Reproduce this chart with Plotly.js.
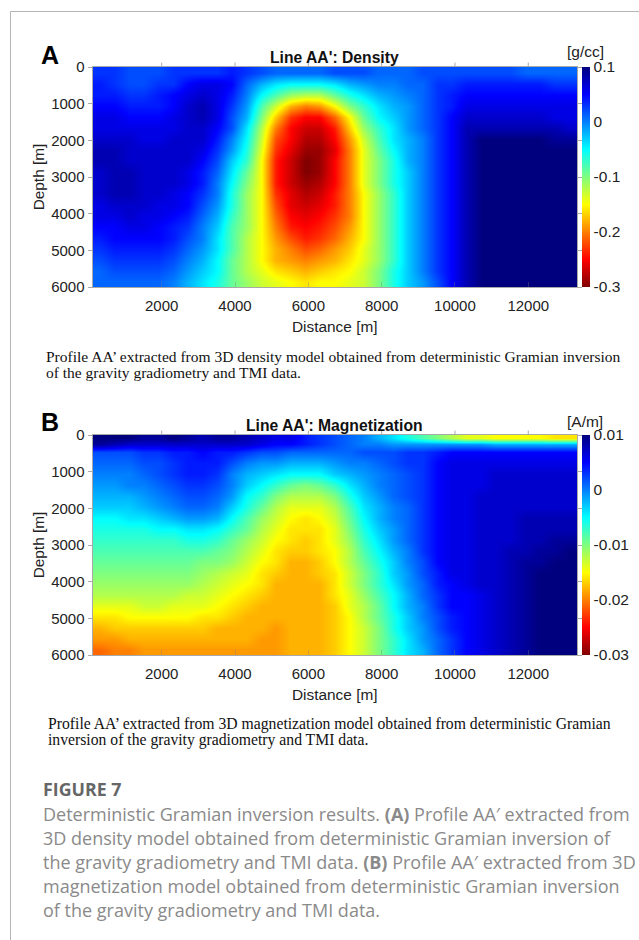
<!DOCTYPE html>
<html><head><meta charset="utf-8">
<script src="https://cdn.plot.ly/plotly-3.0.1.min.js"></script>
<style>html,body{margin:0;padding:0;background:#fff}#g{width:639px;height:940px}</style>
</head><body><div id="g"></div>
<script>
const distance=[312,712,1112,1512,1912,2312,2712,3112,3512,3912,4312,4712,5112,5512,5912,6312,6712,7112,7512,7912,8312,8712,9112,9512,9912,10312,10712,11112,11512,11912,12312,12712,13125];
const depthA=[150,450,750,1050,1350,1650,1950,2250,2550,2850,3150,3450,3750,4050,4350,4650,4950,5250,5550,5850];
const depthB=[75,250,450,750,1050,1350,1650,1950,2250,2550,2850,3150,3450,3750,4050,4350,4650,4950,5250,5550,5850];
// density in 0.01 g/cc
const densityCenti=[
[3,3,2,2,2,3,3,3,3,4,3,2,1,1,1,1,2,2,2,1,1,1,2,2,2,2,2,2,2,1,1,1,1],
[4,3,2,2,3,3,5,6,6,5,1,-2,-4,-5,-5,-5,-4,-2,-1,0,0,1,1,3,3,4,4,4,4,4,4,3,3],
[4,4,3,3,4,5,6,7,6,4,0,-5,-8,-11,-12,-12,-9,-6,-4,-2,-1,0,1,3,4,5,5,5,5,5,5,5,5],
[5,5,4,4,4,5,7,8,6,3,-1,-8,-13,-18,-20,-19,-15,-10,-7,-4,-2,-1,1,3,4,6,6,6,6,6,6,6,6],
[6,6,5,5,5,6,7,8,6,2,-2,-10,-17,-23,-25,-25,-21,-15,-9,-5,-3,-1,1,3,5,7,7,7,7,7,7,6,6],
[6,6,6,6,6,6,7,7,5,2,-4,-12,-20,-25,-27,-27,-24,-17,-11,-7,-4,-1,1,3,5,8,8,8,8,8,8,8,7],
[7,7,7,6,6,7,7,7,4,0,-5,-13,-22,-25,-28,-28,-25,-19,-13,-8,-4,-2,0,3,5,8,10,10,10,10,10,9,9],
[8,8,7,7,7,7,7,6,3,-1,-6,-14,-23,-26,-29,-29,-26,-20,-14,-9,-5,-2,0,3,5,8,10,10,10,10,10,10,10],
[8,8,7,7,7,7,7,5,2,-3,-7,-15,-24,-27,-30,-29,-25,-20,-14,-10,-6,-2,0,3,5,8,10,10,10,10,10,10,10],
[7,8,8,7,7,7,6,4,1,-4,-9,-15,-24,-27,-30,-29,-25,-20,-14,-10,-6,-3,0,3,5,8,10,10,10,10,10,10,10],
[7,8,8,7,7,7,6,4,0,-5,-10,-15,-24,-27,-29,-28,-25,-20,-14,-10,-6,-3,0,3,5,8,10,10,10,10,10,10,10],
[7,8,8,7,7,6,5,3,0,-6,-11,-15,-23,-26,-28,-27,-24,-20,-15,-11,-7,-3,0,3,5,8,10,10,10,10,10,10,10],
[6,7,7,7,6,6,5,2,-1,-6,-11,-15,-22,-26,-27,-26,-24,-20,-15,-11,-7,-3,0,3,5,8,10,10,10,10,10,10,10],
[6,6,7,6,6,5,4,1,-2,-7,-11,-15,-21,-25,-26,-25,-23,-20,-15,-11,-7,-3,0,3,5,8,10,10,10,10,10,10,10],
[5,5,6,6,5,4,3,0,-3,-8,-11,-15,-20,-24,-25,-24,-22,-19,-15,-11,-7,-3,0,3,5,8,10,10,10,10,10,10,10],
[4,5,5,5,5,4,2,0,-4,-8,-12,-15,-19,-22,-24,-23,-21,-18,-15,-11,-7,-3,0,3,5,8,10,10,10,10,10,10,10],
[3,4,4,4,4,3,1,-1,-4,-8,-12,-15,-18,-20,-22,-21,-19,-17,-14,-11,-7,-3,0,3,5,8,10,10,10,10,10,10,10],
[2,3,3,3,3,2,0,-2,-5,-9,-12,-15,-18,-19,-20,-19,-18,-16,-14,-11,-7,-3,0,3,5,8,10,10,10,10,10,10,10],
[1,2,2,2,2,1,-1,-3,-5,-9,-12,-14,-16,-17,-18,-17,-16,-15,-13,-10,-6,-3,0,3,5,8,10,10,10,10,10,10,10],
[1,1,1,1,1,0,-2,-4,-6,-9,-11,-13,-14,-15,-16,-15,-15,-14,-13,-10,-6,-3,-1,2,5,8,10,10,10,10,10,10,10]];
// magnetization in 0.001 A/m
const magnetizationMilli=[
[10,10,10,9,9,10,9,8,9,9,8,7,6,6,4,3,2,1,0,-2,-4,-6,-8,-10,-12,-14,-14,-15,-15,-15,-15,-16,-16],
[9,8,7,7,7,7,7,7,7,7,7,6,5,5,4,3,2,1,0,0,-1,-1,-1,-1,-1,-1,-1,-2,-2,-2,-2,-2,-2],
[2,2,2,3,3,4,4,5,4,4,3,2,2,1,1,1,1,1,2,2,2,3,3,4,5,5,5,5,5,5,5,5,5],
[1,1,1,2,2,3,4,4,4,2,0,-1,-1,-2,-2,-2,-1,0,0,1,2,3,3,5,6,6,6,6,6,6,6,6,6],
[0,0,0,1,2,3,4,4,3,0,-2,-3,-4,-5,-5,-5,-3,-2,-1,0,1,2,3,5,6,6,6,7,7,7,7,7,7],
[-1,-1,0,0,1,2,3,3,2,0,-3,-5,-7,-9,-10,-9,-7,-4,-2,0,1,2,3,5,6,6,6,7,7,7,7,7,7],
[-2,-2,-2,-1,0,1,2,2,1,-1,-5,-7,-10,-12,-12,-12,-10,-6,-3,-1,1,2,3,5,6,6,7,7,7,7,7,7,7],
[-3,-3,-3,-2,-1,0,1,1,0,-3,-6,-9,-12,-14,-14,-14,-12,-8,-4,-2,0,1,3,5,6,6,7,7,7,7,7,7,7],
[-5,-5,-4,-4,-3,-2,-1,-1,-2,-5,-8,-11,-13,-15,-16,-15,-13,-9,-5,-2,0,1,3,5,6,6,7,7,7,8,8,8,8],
[-6,-6,-6,-6,-5,-5,-4,-4,-5,-7,-9,-12,-14,-16,-16,-16,-14,-10,-6,-3,-1,1,3,5,6,6,7,7,7,8,8,8,8],
[-7,-7,-7,-7,-7,-7,-6,-6,-7,-9,-11,-13,-15,-16,-17,-16,-14,-11,-7,-4,-1,1,3,5,6,6,7,7,7,8,8,9,9],
[-8,-8,-8,-8,-8,-8,-8,-8,-9,-10,-12,-14,-16,-17,-17,-16,-15,-12,-8,-5,-2,0,3,5,6,6,7,7,8,8,9,9,10],
[-9,-9,-9,-9,-9,-9,-9,-10,-10,-11,-13,-15,-16,-18,-18,-17,-15,-12,-9,-6,-3,0,2,5,6,6,7,7,8,9,9,10,10],
[-10,-10,-10,-10,-10,-10,-10,-11,-12,-13,-14,-16,-17,-18,-18,-17,-16,-13,-10,-7,-3,-1,2,4,6,6,7,7,8,9,10,10,10],
[-11,-11,-11,-11,-11,-11,-11,-12,-13,-14,-15,-16,-18,-18,-18,-18,-16,-13,-10,-7,-4,-1,1,4,5,6,7,7,8,9,10,10,10],
[-12,-12,-12,-12,-12,-12,-13,-13,-14,-15,-16,-17,-18,-18,-18,-18,-16,-14,-11,-8,-5,-2,1,3,5,5,6,7,8,9,10,10,10],
[-14,-14,-14,-13,-13,-14,-14,-14,-15,-16,-17,-18,-18,-18,-18,-18,-17,-14,-12,-9,-5,-2,0,3,5,5,6,7,8,9,10,10,10],
[-16,-16,-15,-15,-15,-15,-15,-16,-16,-17,-18,-18,-18,-18,-18,-18,-17,-15,-12,-9,-6,-3,0,2,4,5,6,7,8,9,10,10,10],
[-18,-17,-17,-17,-17,-17,-17,-17,-18,-18,-18,-18,-19,-18,-18,-18,-17,-15,-13,-10,-6,-3,-1,2,4,5,6,7,8,9,10,10,10],
[-19,-19,-18,-18,-18,-18,-18,-18,-18,-18,-18,-19,-19,-18,-18,-18,-17,-15,-13,-10,-7,-4,-1,1,3,5,6,7,8,9,10,10,10],
[-21,-20,-20,-19,-19,-19,-19,-19,-19,-19,-19,-19,-19,-18,-18,-18,-17,-15,-13,-10,-7,-4,-2,1,3,5,6,7,8,9,10,10,10]];
const xTicks=[2000,4000,6000,8000,10000,12000];
const yTicks=[0,1000,2000,3000,4000,5000,6000];
const densityTicks=[0.1,0,-0.1,-0.2,-0.3];
const magnetTicks=[0.01,0,-0.01,-0.02,-0.03];
const magnetTickText=['0.01','0','-0.01','-0.02','-0.03'];
const densityTickText=['0.1','0','-0.1','-0.2','-0.3'];

const W=639,H=940;
const SANS='"Liberation Sans",Arial,sans-serif';
const SERIF='"Liberation Serif",serif';
const CAP='"Open Sans",Lato,sans-serif';
const jetReversed=[[0,'#7f0000'],[0.125,'#ff0000'],[0.375,'#ffff00'],[0.5,'#7fff7f'],[0.625,'#00ffff'],[0.875,'#0000ff'],[1,'#00007f']];
const px=v=>v/W, py=v=>1-v/H;
const plotL=92.5,plotR=577;
const panelA={top:67,bot:287}, panelB={top:435,bot:655};

function heat(z,y,xa,ya,panel,zmin,zmax,tv,tt){
  return {type:'heatmap',x:distance,y:y,z:z,xaxis:xa,yaxis:ya,zmin:zmin,zmax:zmax,zsmooth:'best',
    colorscale:jetReversed,hoverinfo:'skip',
    colorbar:{x:px(581.5),xanchor:'left',xpad:0,ypad:0,thickness:8,thicknessmode:'pixels',
      y:py(panel.top),yanchor:'top',len:(panel.bot-panel.top)/H,lenmode:'fraction',
      outlinewidth:0,ticks:'',ticklen:0,tickmode:'array',tickvals:tv,ticktext:tt,
      tickfont:{family:SANS,size:15.5,color:'#222'},borderwidth:0}};
}
const data=[
 heat(densityCenti.map(r=>r.map(v=>v/100)),depthA,'x','y',panelA,-0.3,0.1,densityTicks,densityTickText),
 heat(magnetizationMilli.map(r=>r.map(v=>v/1000)),depthB,'x2','y2',panelB,-0.03,0.01,magnetTicks,magnetTickText)
];
const xax=panel=>({domain:[px(plotL),px(plotR)],range:[112,13330],tickmode:'array',tickvals:xTicks,ticktext:xTicks.map(String),
  ticks:'inside',ticklen:5,tickcolor:'rgba(120,120,120,0.35)',ticklabelstandoff:5,showgrid:false,zeroline:false,showline:true,linecolor:'#a8a8a8',linewidth:1,mirror:true,
  tickfont:{family:SANS,size:15,color:'#222'},title:{text:'Distance [m]',font:{family:SANS,size:15.4,color:'#222'},standoff:8}});
const yax=panel=>({domain:[py(panel.bot),py(panel.top)],range:[6000,0],tickmode:'array',tickvals:yTicks,ticktext:yTicks.map(String),
  ticks:'outside',ticklen:4,tickcolor:'#a8a8a8',showgrid:false,zeroline:false,showline:true,linecolor:'#a8a8a8',linewidth:1,mirror:'ticks',
  tickfont:{family:SANS,size:15,color:'#222'},title:{text:'Depth [m]',font:{family:SANS,size:15.4,color:'#222'},standoff:2}});
function txt(x,y,text,font,anchor){return {xref:'paper',yref:'paper',x:px(x),y:py(y),text:text,showarrow:false,xanchor:anchor||'left',yanchor:'middle',font:font,align:'left',borderpad:0};}
const serifA={family:SERIF,size:15.5,color:'#111'};
const serifB={family:SERIF,size:15.7,color:'#111'};
const capF={family:CAP,size:18,color:'#8a8a8a',weight:400};
const annotations=[
 txt(40,55,'<b>A</b>',{family:SANS,size:25,color:'#000'}),
 txt(39.5,422,'<b>B</b>',{family:SANS,size:25,color:'#000'}),
 txt(334.5,57,"<b>Line AA': Density</b>",{family:SANS,size:15.7,color:'#111'},'center'),
 txt(334.5,425,"<b>Line AA': Magnetization</b>",{family:SANS,size:15.7,color:'#111'},'center'),
 txt(585,52,'[g/cc]',{family:SANS,size:15.5,color:'#222'},'center'),
 txt(585,422,'[A/m]',{family:SANS,size:15.5,color:'#222'},'center'),
 txt(45,356,"Profile AA’ extracted from 3D density model obtained from deterministic Gramian inversion",serifA),
 txt(45,372,"of the gravity gradiometry and TMI data.",serifA),
 txt(47,723.7,"Profile AA’ extracted from 3D magnetization model obtained from deterministic Gramian",serifB),
 txt(47,739.5,"inversion of the gravity gradiometry and TMI data.",serifB),
 txt(42,789,"FIGURE 7",{family:CAP,size:17.8,color:'#666',weight:700}),
 txt(42,814,"Deterministic Gramian inversion results. <b>(A)</b> Profile AA′ extracted from",capF),
 txt(42,838,"3D density model obtained from deterministic Gramian inversion of",capF),
 txt(42,862,"the gravity gradiometry and TMI data. <b>(B)</b> Profile AA′ extracted from 3D",capF),
 txt(42,886,"magnetization model obtained from deterministic Gramian inversion",capF),
 txt(42,910,"of the gravity gradiometry and TMI data.",capF)
];
const topTick=(v,ax)=>({type:'line',xref:ax,yref:(ax==='x'?'y':'y2')+' domain',x0:v,x1:v,y0:1,y1:1.02,line:{color:'#a8a8a8',width:1}});
const shapes=[
 {type:'line',xref:'paper',yref:'paper',x0:px(10.5),x1:1,y0:py(11.5),y1:py(11.5),line:{color:'#b5b5b5',width:1}},
 {type:'line',xref:'paper',yref:'paper',x0:px(10.5),x1:px(10.5),y0:py(11.5),y1:0,line:{color:'#b5b5b5',width:1}},
 ...xTicks.map(v=>topTick(v,'x')),...xTicks.map(v=>topTick(v,'x2'))
];
const layout={width:W,height:H,margin:{l:0,r:0,t:0,b:0,pad:0},paper_bgcolor:'#fff',plot_bgcolor:'#fff',showlegend:false,
 xaxis:{...xax(panelA),anchor:'y'},yaxis:{...yax(panelA),anchor:'x'},
 xaxis2:{...xax(panelB),anchor:'y2'},yaxis2:{...yax(panelB),anchor:'x2'},
 annotations:annotations,shapes:shapes};
Plotly.newPlot('g',data,layout,{displayModeBar:false,staticPlot:true});
</script></body></html>
